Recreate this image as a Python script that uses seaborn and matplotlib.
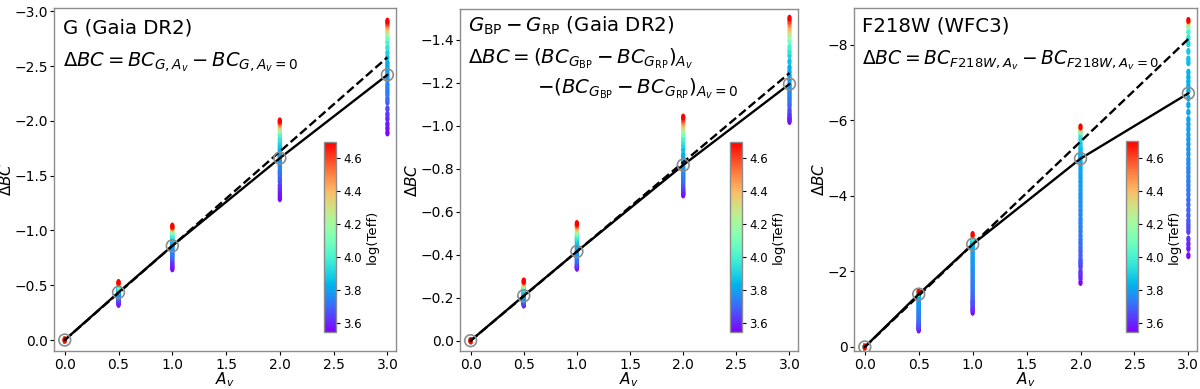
import numpy as np
import pandas as pd
import matplotlib
matplotlib.use('Agg')
import matplotlib.pyplot as plt
from matplotlib.path import Path
from matplotlib.transforms import Affine2D
import seaborn as sns

# extinction steps (x positions of the star columns)
av_cols = [0.0, 0.5, 1.0, 2.0, 3.0]

# log(Teff) of the model stars used in the two Gaia panels
teff_gaia = [4.70, 4.60, 4.50, 4.40, 4.30, 4.20, 4.10, 4.00, 3.95, 3.90,
             3.86, 3.82, 3.81, 3.80, 3.79, 3.78, 3.77, 3.76, 3.75, 3.74,
             3.73, 3.72, 3.70, 3.68, 3.65, 3.62, 3.60, 3.58, 3.565, 3.55]

# G band, delta BC of each star at Av = 0.5, 1, 2, 3
g_av05 = [-0.525, -0.521, -0.518, -0.513, -0.508, -0.503, -0.496, -0.487,
          -0.478, -0.469, -0.460, -0.451, -0.446, -0.441, -0.436, -0.431,
          -0.425, -0.418, -0.412, -0.406, -0.399, -0.393, -0.386, -0.379,
          -0.369, -0.358, -0.351, -0.341, -0.333, -0.325]
g_av10 = [-1.040, -1.033, -1.026, -1.017, -1.007, -0.997, -0.983, -0.966,
          -0.948, -0.931, -0.913, -0.896, -0.886, -0.876, -0.866, -0.857,
          -0.845, -0.832, -0.820, -0.807, -0.795, -0.783, -0.769, -0.756,
          -0.736, -0.715, -0.701, -0.680, -0.665, -0.650]
g_av20 = [-2.00, -1.99, -1.97, -1.96, -1.94, -1.92, -1.90, -1.87, -1.83,
          -1.80, -1.77, -1.74, -1.72, -1.70, -1.68, -1.67, -1.64, -1.62,
          -1.60, -1.58, -1.55, -1.53, -1.51, -1.48, -1.45, -1.41, -1.38,
          -1.35, -1.32, -1.29]
g_av30 = [-2.91, -2.89, -2.87, -2.85, -2.82, -2.80, -2.76, -2.72, -2.67,
          -2.62, -2.58, -2.53, -2.51, -2.48, -2.46, -2.43, -2.40, -2.37,
          -2.33, -2.30, -2.27, -2.24, -2.20, -2.17, -2.11, -2.06, -2.02,
          -1.97, -1.93, -1.89]
g_circ = [0.0, -0.435, -0.86, -1.66, -2.42]
g_dash = [0.0, -2.58]

# GBP - GRP colour
bp_av05 = [-0.278, -0.275, -0.271, -0.267, -0.263, -0.259, -0.253, -0.247,
           -0.242, -0.238, -0.231, -0.224, -0.220, -0.215, -0.211, -0.206,
           -0.204, -0.201, -0.198, -0.195, -0.192, -0.190, -0.186, -0.183,
           -0.178, -0.175, -0.172, -0.170, -0.168, -0.166]
bp_av10 = [-0.545, -0.539, -0.533, -0.524, -0.517, -0.509, -0.499, -0.487,
           -0.478, -0.470, -0.458, -0.445, -0.437, -0.429, -0.420, -0.412,
           -0.407, -0.401, -0.396, -0.391, -0.386, -0.381, -0.375, -0.369,
           -0.360, -0.353, -0.348, -0.344, -0.341, -0.337]
bp_av20 = [-1.040, -1.029, -1.018, -1.004, -0.990, -0.978, -0.960, -0.939,
           -0.924, -0.910, -0.888, -0.866, -0.852, -0.837, -0.823, -0.808,
           -0.799, -0.790, -0.781, -0.772, -0.763, -0.754, -0.744, -0.733,
           -0.718, -0.706, -0.698, -0.690, -0.684, -0.678]
bp_av30 = [-1.500, -1.486, -1.471, -1.452, -1.434, -1.417, -1.394, -1.366,
           -1.346, -1.327, -1.298, -1.270, -1.250, -1.231, -1.212, -1.193,
           -1.181, -1.169, -1.157, -1.145, -1.133, -1.121, -1.107, -1.093,
           -1.073, -1.057, -1.046, -1.036, -1.028, -1.020]
bp_circ = [0.0, -0.209, -0.415, -0.817, -1.194]
bp_dash = [0.0, -1.245]

# log(Teff) of the model stars used in the WFC3 panel
teff_wfc3 = [4.70, 4.40, 4.15, 4.00, 3.95, 3.90, 3.88, 3.86, 3.85, 3.84,
             3.835, 3.83, 3.825, 3.82, 3.815, 3.81, 3.805, 3.80, 3.795, 3.79,
             3.785, 3.78, 3.775, 3.77, 3.765, 3.76, 3.755, 3.75, 3.745, 3.74,
             3.735, 3.73, 3.725, 3.72, 3.71, 3.70, 3.69, 3.68, 3.67, 3.66,
             3.65, 3.64, 3.62, 3.60, 3.58, 3.55]

# F218W (WFC3)
f_av05 = [-1.47, -1.45, -1.44, -1.43, -1.42, -1.42, -1.42, -1.41, -1.41,
          -1.41, -1.41, -1.40, -1.40, -1.40, -1.38, -1.36, -1.34, -1.32,
          -1.28, -1.25, -1.21, -1.18, -1.14, -1.11, -1.08, -1.04, -1.01,
          -0.98, -0.94, -0.91, -0.88, -0.84, -0.81, -0.78, -0.74, -0.71,
          -0.68, -0.65, -0.61, -0.59, -0.58, -0.56, -0.52, -0.50, -0.48,
          -0.45]
f_av10 = [-2.98, -2.94, -2.92, -2.90, -2.87, -2.84, -2.81, -2.79, -2.77,
          -2.76, -2.75, -2.75, -2.74, -2.73, -2.69, -2.65, -2.61, -2.57,
          -2.50, -2.44, -2.37, -2.31, -2.25, -2.18, -2.12, -2.05, -1.99,
          -1.93, -1.86, -1.80, -1.73, -1.67, -1.60, -1.54, -1.48, -1.41,
          -1.35, -1.29, -1.23, -1.20, -1.16, -1.13, -1.06, -1.02, -0.98,
          -0.92]
f_av20 = [-5.83, -5.77, -5.71, -5.69, -5.59, -5.50, -5.39, -5.29, -5.24,
          -5.16, -5.12, -5.08, -5.04, -5.01, -4.90, -4.80, -4.70, -4.59,
          -4.49, -4.38, -4.27, -4.16, -4.05, -3.95, -3.84, -3.73, -3.62,
          -3.51, -3.39, -3.29, -3.18, -3.07, -2.95, -2.84, -2.74, -2.63,
          -2.53, -2.42, -2.31, -2.25, -2.19, -2.12, -2.00, -1.92, -1.83,
          -1.71]
f_av30 = [-8.65, -8.59, -8.48, -8.35, -8.19, -8.03, -7.83, -7.63, -7.53,
          -7.28, -7.15, -7.03, -6.91, -6.78, -6.59, -6.41, -6.22, -6.03,
          -5.90, -5.77, -5.63, -5.50, -5.37, -5.24, -5.11, -4.97, -4.86,
          -4.74, -4.63, -4.51, -4.39, -4.28, -4.16, -4.04, -3.90, -3.77,
          -3.63, -3.49, -3.35, -3.25, -3.16, -3.06, -2.86, -2.73, -2.61,
          -2.42]
f_circ = [0.0, -1.40, -2.72, -4.99, -6.72]
f_dash = [0.0, -8.16]

dash_av = [0.0, 3.0]
TMIN, TMAX = 3.543, 4.70
cbar_ticks = [3.6, 3.8, 4.0, 4.2, 4.4, 4.6]

# slightly tall oval so the stacked stars read as a continuous strip
star_marker = Path.unit_circle().transformed(Affine2D().scale(0.62, 1.0))


def stack_columns(teff, columns):
    frames = []
    for av, dbc in zip(av_cols, columns):
        frames.append(pd.DataFrame({'av': av, 'dbc': dbc, 'teff': teff}))
    # hottest stars drawn last so red ends up on top
    return pd.concat(frames).sort_values('teff', kind='stable')


def draw_panel(fig, ax, cax, df, circ, dash, ylim, yticks):
    sns.scatterplot(data=df, x='av', y='dbc', hue='teff', palette='rainbow',
                    hue_norm=(TMIN, TMAX), s=26, marker=star_marker,
                    linewidth=0, legend=False, ax=ax, zorder=2)
    ax.plot(dash_av, dash, color='k', ls='--', lw=1.7, zorder=3)
    ax.plot(av_cols, circ, color='k', lw=1.7, zorder=3)
    ax.scatter(av_cols, circ, s=72, facecolors='none', edgecolors='#8c8c8c',
               linewidths=1.2, zorder=4)
    ax.set_xlim(-0.1, 3.08)
    ax.set_ylim(*ylim)
    ax.set_xticks([0.0, 0.5, 1.0, 1.5, 2.0, 2.5, 3.0])
    ax.set_yticks(yticks)
    ax.set_xlabel(r'$A_v$', fontsize=11, labelpad=-1)
    ax.set_ylabel(r'$\Delta BC$', fontsize=11, labelpad=0)
    ax.tick_params(axis='x', labelsize=10, length=3, pad=2)
    ax.tick_params(axis='y', labelsize=10, length=3, pad=1.5)

    sm = plt.cm.ScalarMappable(norm=plt.Normalize(TMIN, TMAX), cmap='rainbow')
    cb = fig.colorbar(sm, cax=cax)
    cb.set_ticks(cbar_ticks)
    cb.ax.tick_params(labelsize=8.5, length=3, pad=2)
    cb.set_label('log(Teff)', fontsize=9.5, labelpad=3)
    cb.outline.set_edgecolor('#8c8c8c')


sns.set_style('ticks')
plt.rcParams['font.family'] = ['DejaVu Sans']
plt.rcParams['mathtext.fontset'] = 'dejavusans'
plt.rcParams['axes.edgecolor'] = '#8c8c8c'
plt.rcParams['axes.linewidth'] = 1.0
for key in ['text.color', 'axes.labelcolor', 'xtick.color', 'ytick.color',
            'xtick.labelcolor', 'ytick.labelcolor']:
    plt.rcParams[key] = 'black'

fig = plt.figure(figsize=(12, 3.89), dpi=100)
ax1 = fig.add_axes([54 / 1200, 38 / 389, 342 / 1200, 343 / 389])
ax2 = fig.add_axes([460 / 1200, 38 / 389, 338 / 1200, 342 / 389])
ax3 = fig.add_axes([854 / 1200, 38 / 389, 343 / 1200, 343 / 389])
cax1 = fig.add_axes([324 / 1200, 57 / 389, 12 / 1200, 190 / 389])
cax2 = fig.add_axes([730 / 1200, 57 / 389, 12 / 1200, 190 / 389])
cax3 = fig.add_axes([1126 / 1200, 57 / 389, 12 / 1200, 191 / 389])

df_g = stack_columns(teff_gaia, [[0.0] * len(teff_gaia), g_av05, g_av10, g_av20, g_av30])
df_bp = stack_columns(teff_gaia, [[0.0] * len(teff_gaia), bp_av05, bp_av10, bp_av20, bp_av30])
df_f = stack_columns(teff_wfc3, [[0.0] * len(teff_wfc3), f_av05, f_av10, f_av20, f_av30])

draw_panel(fig, ax1, cax1, df_g, g_circ, g_dash, (0.10, -3.03),
           [0.0, -0.5, -1.0, -1.5, -2.0, -2.5, -3.0])
draw_panel(fig, ax2, cax2, df_bp, bp_circ, bp_dash, (0.048, -1.543),
           [0.0, -0.2, -0.4, -0.6, -0.8, -1.0, -1.2, -1.4])
draw_panel(fig, ax3, cax3, df_f, f_circ, f_dash, (0.106, -8.98),
           [0, -2, -4, -6, -8])

# panel annotations
ax1.text(0.026, 0.927, 'G (Gaia DR2)', transform=ax1.transAxes,
         fontsize=14.2, va='baseline')
ax1.text(0.026, 0.831, r'$\Delta BC = BC_{G,A_v} - BC_{G,A_v=0}$',
         transform=ax1.transAxes, fontsize=14, va='baseline')

ax2.text(0.024, 0.934, r'$G_{\rm BP} - G_{\rm RP}$ (Gaia DR2)',
         transform=ax2.transAxes, fontsize=14.2, va='baseline')
ax2.text(0.024, 0.842,
         r'$\Delta BC = (BC_{G_{\rm BP}} - BC_{G_{\rm RP}})_{A_v}$',
         transform=ax2.transAxes, fontsize=14.2, va='baseline')
ax2.text(0.228, 0.754, r'$-(BC_{G_{\rm BP}} - BC_{G_{\rm RP}})_{A_v=0}$',
         transform=ax2.transAxes, fontsize=14.2, va='baseline')

ax3.text(0.022, 0.931, 'F218W (WFC3)', transform=ax3.transAxes,
         fontsize=14.2, va='baseline')
ax3.text(0.022, 0.837, r'$\Delta BC = BC_{F218W,A_v} - BC_{F218W,A_v=0}$',
         transform=ax3.transAxes, fontsize=13.5, va='baseline')

fig.savefig('out.png', dpi=100)
